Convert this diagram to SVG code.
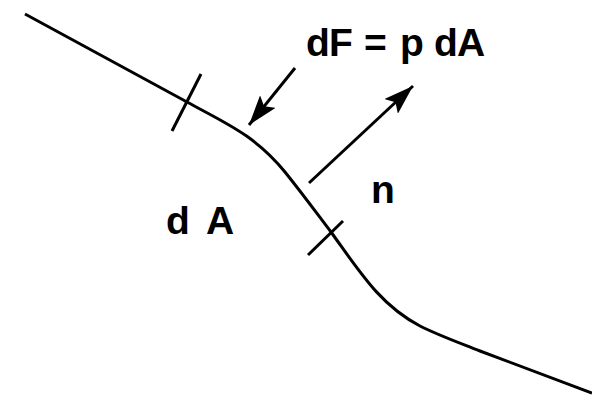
<svg xmlns="http://www.w3.org/2000/svg" width="592" height="398" viewBox="0 0 592 398">
<style>
.ln{fill:none;stroke:#000;stroke-width:3;stroke-linecap:butt}
.lbl{font-family:"Liberation Sans",Arial,sans-serif;font-weight:bold;font-size:39px;fill:#000}
</style>
<defs>
<marker id="ah" viewBox="0 0 30 20" refX="30" refY="10" markerWidth="30" markerHeight="20" markerUnits="userSpaceOnUse" orient="auto">
<path d="M0 0 L30 10 L0 20 L6 10 Z" fill="#000"/>
</marker>
</defs>
<rect width="592" height="398" fill="#fff"/>
<g id="surface">
<path class="ln" d="M25 14 L187 102 C225 123,255 135,285 172 C305 197,318 215,331 232 C360 272,380 305,420 326 C440 336,460 343,480 351 L592 393"/>
<line class="ln" x1="201" y1="74" x2="172" y2="131"/>
<line class="ln" x1="343" y1="221" x2="308" y2="255"/>
</g>
<g id="connectors">
<line class="ln" x1="295" y1="68" x2="249" y2="125" marker-end="url(#ah)"/>
<line class="ln" x1="309" y1="183" x2="413" y2="86" marker-end="url(#ah)"/>
</g>
<g id="labels">
<text class="lbl" x="306 329 355 364 390 400 425 434 457" y="56">dF = p dA</text>
<text class="lbl" x="371" y="203">n</text>
<text class="lbl" x="166 190 206" y="234">d A</text>
</g>
</svg>
